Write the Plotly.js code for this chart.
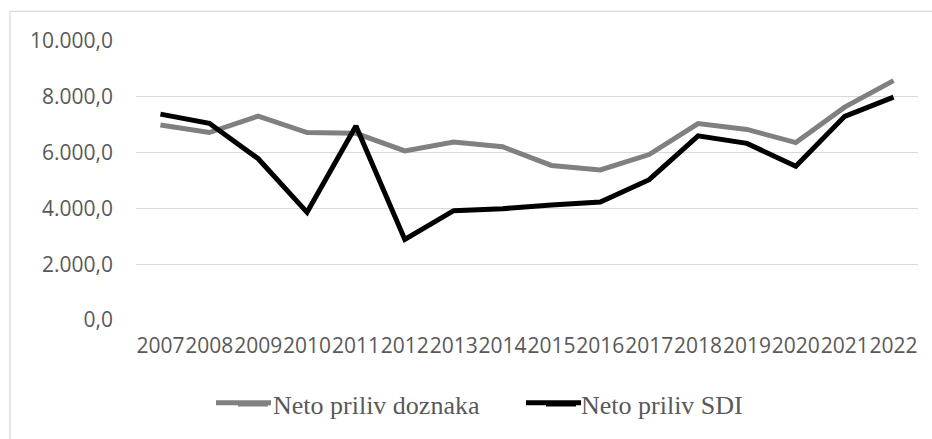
<!DOCTYPE html>
<html>
<head>
<meta charset="utf-8">
<script src="https://cdn.plot.ly/plotly-3.0.1.min.js"></script>
<style>
  html, body { margin: 0; padding: 0; background: #ffffff; }
  #chart { width: 932px; height: 439px; }
</style>
</head>
<body>
<div id="chart"></div>
<script>
// Data
const years = ["2007","2008","2009","2010","2011","2012","2013","2014","2015","2016","2017","2018","2019","2020","2021","2022"];
const doznakaName = "Neto priliv doznaka";
const doznaka = [6990, 6720, 7310, 6720, 6690, 6060, 6380, 6210, 5540, 5380, 5930, 7040, 6830, 6360, 7630, 8580];
const sdiName = "Neto priliv SDI";
const sdi = [7380, 7050, 5780, 3860, 6950, 2890, 3920, 3990, 4120, 4230, 5030, 6600, 6330, 5510, 7300, 7990];
const yTicks = [0, 2000, 4000, 6000, 8000, 10000];

const grayColor = "#808080";
const blackColor = "#000000";

const W = 932, H = 439;
const margin = { l: 136, r: 14, t: 41, b: 116 };
const plotW = W - margin.l - margin.r;
const plotH = H - margin.t - margin.b;
const px2x = (px) => (px - margin.l) / plotW;
const py2y = (py) => (H - margin.b - py) / plotH;

const tickFont = { family: "Open Sans", size: 21, color: "#595959" };

const traces = [
  {
    x: years, y: doznaka, name: doznakaName, type: "scatter", mode: "lines",
    line: { color: grayColor, width: 5 }
  },
  {
    x: years, y: sdi, name: sdiName, type: "scatter", mode: "lines",
    line: { color: blackColor, width: 5 }
  }
];

// legend sample lines lengthened to match the reference (Plotly draws 30px samples)
const legendLineY = py2y(406.7);
function legendSample(x0px, x1px, color) {
  return { type: "line", xref: "paper", yref: "paper", layer: "above",
    x0: px2x(x0px), x1: px2x(x1px), y0: legendLineY, y1: legendLineY,
    line: { color: color, width: 5 } };
}

const layout = {
  width: W, height: H,
  margin: margin,
  paper_bgcolor: "#ffffff",
  plot_bgcolor: "#ffffff",
  separators: ",.",
  showlegend: true,
  xaxis: {
    type: "category",
    range: [-0.5, years.length - 0.5],
    tickangle: 0,
    tickfont: tickFont,
    showgrid: false, zeroline: false, showline: false,
    ticks: "", ticklabelstandoff: 11,
    fixedrange: true
  },
  yaxis: {
    range: [0, 10000],
    tickvals: yTicks,
    tickformat: ",.1f",
    tickfont: tickFont,
    showgrid: true, gridcolor: "#d9d9d9", gridwidth: 1.3,
    zeroline: false, showline: false,
    ticks: "", ticklabelstandoff: 22,
    fixedrange: true
  },
  legend: {
    orientation: "h",
    x: px2x(233), xanchor: "left",
    y: py2y(408), yanchor: "middle",
    font: { family: "Liberation Serif", size: 26, color: "#595959" },
    itemwidth: 30,
    entrywidth: 263,
    traceorder: "normal",
    bgcolor: "rgba(0,0,0,0)"
  },
  shapes: [
    { type: "line", xref: "paper", yref: "paper", x0: px2x(10), x1: px2x(940), y0: py2y(11), y1: py2y(11),
      line: { color: "#d9d9d9", width: 1.3 } },
    { type: "line", xref: "paper", yref: "paper", x0: px2x(10), x1: px2x(10), y0: py2y(11), y1: py2y(445),
      line: { color: "#d9d9d9", width: 1.3 } },
    legendSample(216, 271, grayColor),
    legendSample(526, 581, blackColor)
  ]
};

Plotly.newPlot("chart", traces, layout, { displayModeBar: false, staticPlot: true });
</script>
</body>
</html>
